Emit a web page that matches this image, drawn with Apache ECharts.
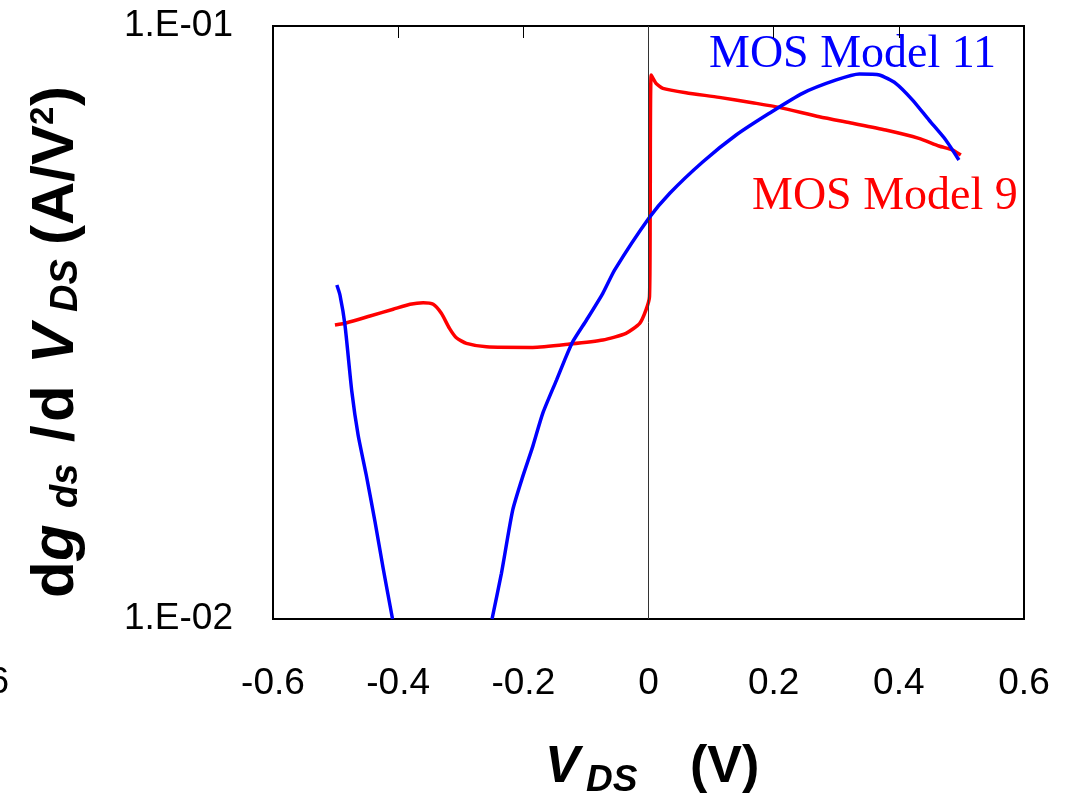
<!DOCTYPE html>
<html>
<head>
<meta charset="utf-8">
<script src="https://cdn.jsdelivr.net/npm/echarts@6/dist/echarts.min.js"></script>
<style>
  html, body { margin: 0; padding: 0; background: #fff; }
  #chart { width: 1075px; height: 801px; }
</style>
</head>
<body>
<div id="chart"></div>
<script>
// V_DS (V) versus dg_ds/dV_DS (A/V^2) for the two compact models
const model9 = [
  [-0.501, 0.03131], [-0.482, 0.03160], [-0.445, 0.03243], [-0.408, 0.03329],
  [-0.381, 0.03394], [-0.360, 0.03415], [-0.344, 0.03394], [-0.331, 0.03277],
  [-0.318, 0.03091], [-0.307, 0.02980], [-0.291, 0.02916], [-0.259, 0.02878],
  [-0.185, 0.02871], [-0.126, 0.02908], [-0.073, 0.02954], [-0.036, 0.03032],
  [-0.014, 0.03151], [-0.004, 0.03320], [0.0016, 0.03496], [0.0027, 0.04832],
  [0.0043, 0.08269], [0.012, 0.08004], [0.023, 0.07849], [0.060, 0.07717],
  [0.113, 0.07580], [0.166, 0.07423], [0.209, 0.07291], [0.273, 0.07030],
  [0.326, 0.06854], [0.379, 0.06678], [0.432, 0.06465], [0.464, 0.06275],
  [0.486, 0.06178], [0.499, 0.06060]
];

// Model 11 leaves the decade below 1.E-02 between the two branches
const model11Left = [
  [-0.498, 0.03658], [-0.493, 0.03519], [-0.485, 0.03131], [-0.474, 0.02416],
  [-0.464, 0.02043], [-0.451, 0.01749], [-0.437, 0.01459], [-0.424, 0.01218],
  [-0.409, 0.01000]
];
const model11Right = [
  [-0.250, 0.01000], [-0.235, 0.01194], [-0.217, 0.01526], [-0.201, 0.01738],
  [-0.185, 0.01953], [-0.169, 0.02222], [-0.147, 0.02529], [-0.134, 0.02733],
  [-0.121, 0.02935], [-0.099, 0.03193], [-0.073, 0.03541], [-0.054, 0.03878],
  [0.0005, 0.04739], [0.034, 0.05223], [0.087, 0.05904], [0.140, 0.06549],
  [0.193, 0.07126], [0.246, 0.07700], [0.300, 0.08110], [0.337, 0.08300],
  [0.369, 0.08268], [0.395, 0.08004], [0.422, 0.07500], [0.448, 0.06944],
  [0.475, 0.06424], [0.496, 0.05943]
];

const xTickLabels = ['-0.6', '-0.4', '-0.2', '0', '0.2', '0.4', '0.6'];
const yTickLabels = ['1.E-02', '1.E-01'];

const SANS = '"Liberation Sans", Arial, sans-serif';
const SERIF = '"Liberation Serif", "Times New Roman", serif';

const chart = echarts.init(document.getElementById('chart'), null, { renderer: 'canvas' });

const lineSeries = (name, data, color) => ({
  name: name,
  type: 'line',
  data: data,
  showSymbol: false,
  symbol: 'none',
  smooth: 0.2,
  lineStyle: { color: color, width: 3.5 },
  itemStyle: { color: color },
  silent: true,
  animation: false
});

// one run of title text; vertical=true writes it bottom-to-top
function piece(text, x, y, font, vertical) {
  return {
    type: 'text', x: x, y: y, silent: true,
    rotation: vertical ? Math.PI / 2 : 0,
    style: { text: text, fill: '#000', font: font, align: 'left', verticalAlign: 'middle' }
  };
}
const B = s => 'bold ' + s + 'px ' + SANS;
const BI = s => 'italic bold ' + s + 'px ' + SANS;

// y-axis title: dg_ds /dV_DS  (A/V^2)
const yc = 56;
const yTitle = [
  piece('d',    yc,      598, B(60),  true),
  piece('g',    yc,      561, BI(60), true),
  piece('ds',   yc + 11, 508, BI(38), true),
  piece('/',    yc,      442, B(60),  true),
  piece('d',    yc,      422, B(60),  true),
  piece('V',    yc,      364, BI(60), true),
  piece('DS',   yc + 11, 312, BI(38), true),
  piece('(A/V', yc,      245, B(60),  true),
  piece('2',    yc - 12, 125, B(33),  true),
  piece(')',    yc,      106, B(60),  true)
];

// x-axis title: V_DS  (V)
const xTitle = [
  piece('V',   545, 768, BI(52)),
  piece('DS',  586, 781, BI(37)),
  piece('(V)', 690, 768, B(52))
];

chart.setOption({
  animation: false,
  backgroundColor: '#fff',
  grid: {
    left: 273, top: 26, right: 51, bottom: 182,
    show: true, borderColor: '#000', borderWidth: 2, backgroundColor: 'transparent'
  },
  xAxis: [
    {
      type: 'value', min: -0.6, max: 0.6, interval: 0.2, position: 'bottom',
      axisLine: { show: false }, axisTick: { show: false }, splitLine: { show: false },
      axisLabel: {
        margin: 46, color: '#000', fontFamily: SANS, fontSize: 37,
        formatter: (v, i) => xTickLabels[i]
      }
    },
    {
      type: 'value', min: -0.6, max: 0.6, interval: 0.2, position: 'top',
      axisLine: { show: false }, splitLine: { show: false }, axisLabel: { show: false },
      axisTick: { show: true, inside: true, length: 12, lineStyle: { color: '#000', width: 1 } }
    }
  ],
  yAxis: {
    type: 'log', logBase: 10, min: 0.01, max: 0.1,
    axisLine: { show: false }, axisTick: { show: false }, splitLine: { show: false },
    axisLabel: {
      margin: 40, color: '#000', fontFamily: SANS, fontSize: 37,
      showMinLabel: true, showMaxLabel: true,
      formatter: v => yTickLabels[Math.round(Math.log10(v)) + 2]
    }
  },
  series: [
    Object.assign(lineSeries('MOS Model 9', model9, '#ff0000'), {
      markLine: {
        silent: true, symbol: 'none', animation: false,
        label: { show: false },
        lineStyle: { color: '#333', width: 1, type: 'solid' },
        data: [{ xAxis: 0 }]
      }
    }),
    lineSeries('MOS Model 11', model11Left, '#0000ff'),
    lineSeries('MOS Model 11', model11Right, '#0000ff')
  ],
  graphic: [
    {
      type: 'text', x: 709, y: 55, silent: true,
      style: { text: 'MOS Model 11', fill: '#0000ff', font: '46px ' + SERIF, align: 'left', verticalAlign: 'middle' }
    },
    {
      type: 'text', x: 752, y: 197, silent: true,
      style: { text: 'MOS Model 9', fill: '#ff0000', font: '46px ' + SERIF, align: 'left', verticalAlign: 'middle' }
    },
    {
      type: 'text', x: 9, y: 683, silent: true,
      style: { text: '-0.6', fill: '#000', font: '37px ' + SANS, align: 'right', verticalAlign: 'middle' }
    }
  ].concat(xTitle, yTitle)
});
</script>
</body>
</html>
